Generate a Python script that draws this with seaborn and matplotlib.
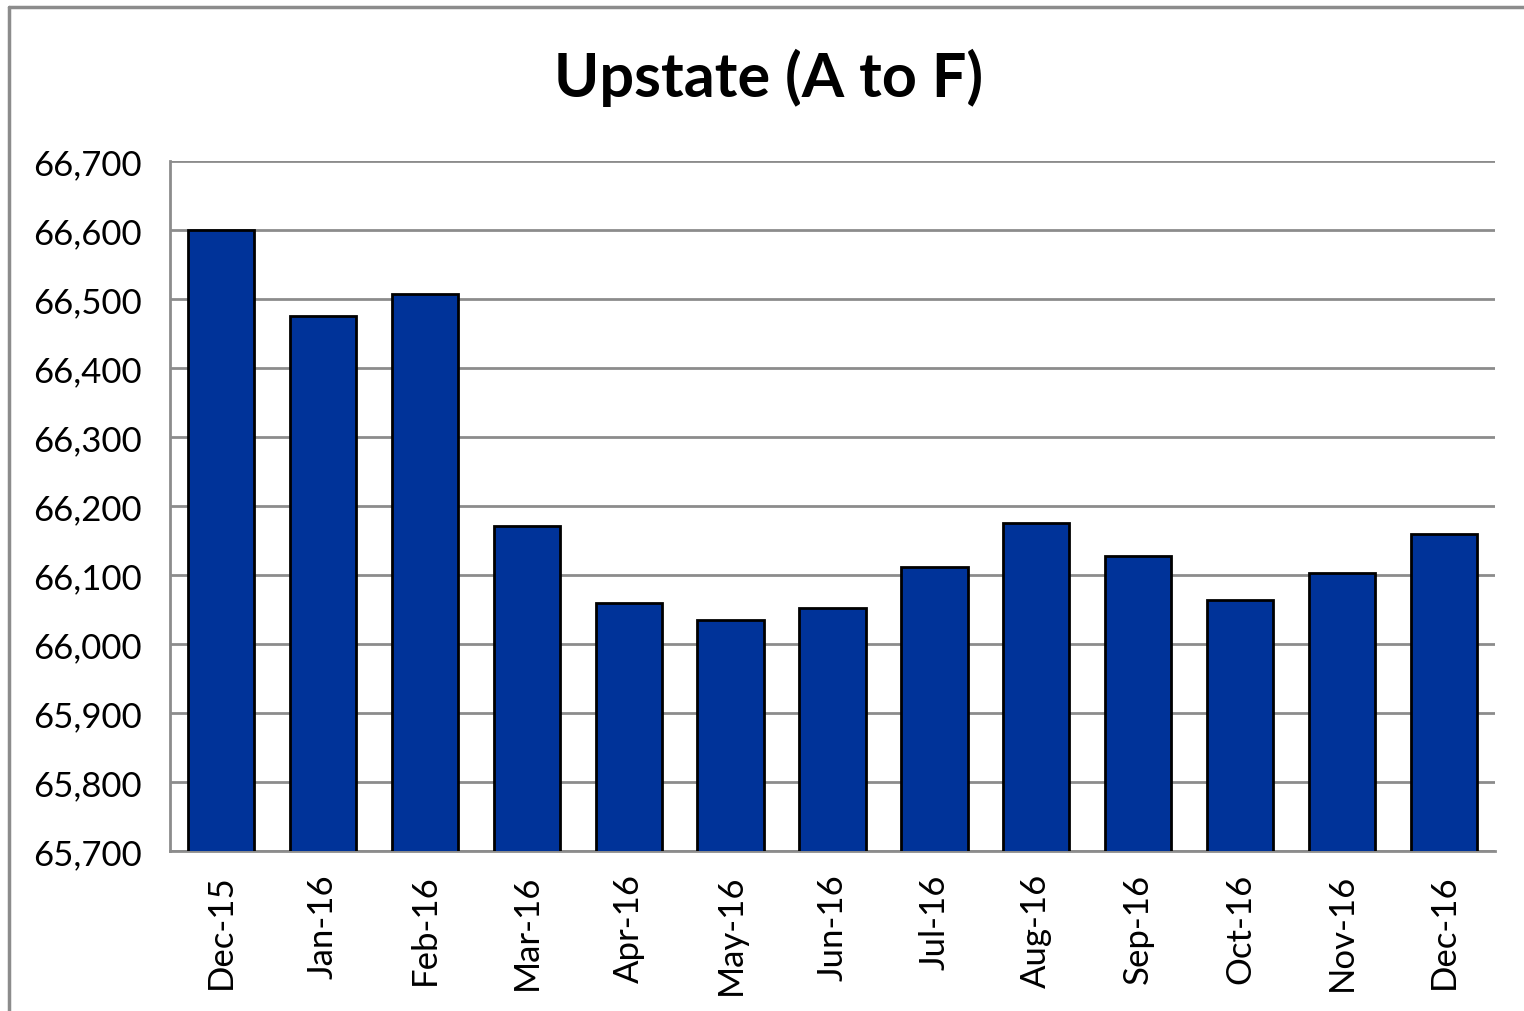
import matplotlib.pyplot as plt
import matplotlib.ticker as mticker
from matplotlib.lines import Line2D
import pandas as pd
import seaborn as sns

months = ["Dec-15", "Jan-16", "Feb-16", "Mar-16", "Apr-16", "May-16", "Jun-16",
          "Jul-16", "Aug-16", "Sep-16", "Oct-16", "Nov-16", "Dec-16"]
values = [66600, 66475, 66507, 66171, 66059, 66035, 66052,
          66112, 66175, 66128, 66064, 66103, 66159]
y_ticks = list(range(65700, 66701, 100))

sns.set_style("white")
plt.rcParams['font.family'] = ['Lato', 'DejaVu Sans']
plt.rcParams['text.color'] = 'black'
plt.rcParams['xtick.color'] = 'black'
plt.rcParams['ytick.color'] = 'black'

df = pd.DataFrame({"month": months, "value": values})

fig = plt.figure(figsize=(15.24, 10.12), dpi=100)
ax = fig.add_axes([170 / 1524, 1 - 852 / 1012, (1495 - 170) / 1524, (852 - 162) / 1012])

sns.barplot(data=df, x="month", y="value", color="#003399", saturation=1,
            width=0.65, edgecolor="black", linewidth=2, ax=ax, zorder=3)

ax.set_ylim(65700, 66700)
ax.set_xlim(-0.5, len(months) - 0.5)
ax.set_yticks(y_ticks)
ax.yaxis.set_major_formatter(mticker.FuncFormatter(lambda v, p: f"{int(v):,}"))
ax.yaxis.grid(True, color="#8c8c8c", linewidth=2, zorder=0)
ax.set_axisbelow(True)
ax.set_xlabel("")
ax.set_ylabel("")

for side in ["top", "right"]:
    ax.spines[side].set_visible(False)
for side in ["left", "bottom"]:
    ax.spines[side].set_color("#8c8c8c")
    ax.spines[side].set_linewidth(2)

ax.tick_params(axis="y", labelsize=25, length=12, width=2, color="#8c8c8c",
               labelcolor="black", direction="out", pad=8)
ax.tick_params(axis="x", labelsize=25, length=0, pad=16, labelrotation=90, labelcolor="black")
# tick marks between categories on x axis
ax.set_xticks([i - 0.5 for i in range(len(months) + 1)], minor=True)
ax.tick_params(axis="x", which="minor", length=10, width=2, color="#8c8c8c", direction="out")

fig.suptitle("Upstate (A to F)", fontsize=44, fontweight="bold", color="black",
             x=769 / 1524, y=1 - 78 / 1012, va="center")

# chart frame: only the top and left edges show in the reference
fig.add_artist(Line2D([9 / 1524, 9 / 1524], [0, 1 - 8 / 1012], transform=fig.transFigure,
                      color="#8c8c8c", linewidth=2.5))
fig.add_artist(Line2D([9 / 1524, 1], [1 - 8 / 1012, 1 - 8 / 1012], transform=fig.transFigure,
                      color="#8c8c8c", linewidth=2.5))

fig.savefig("out.png", dpi=100)
